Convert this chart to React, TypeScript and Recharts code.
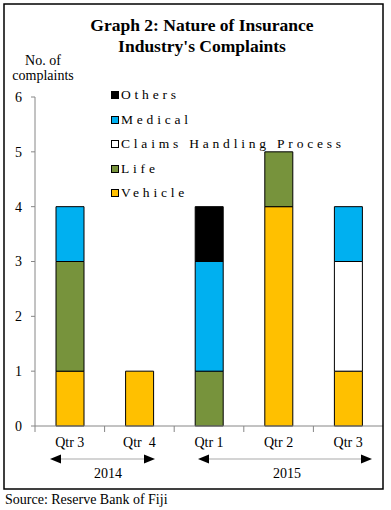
import React from "react";
import { BarChart, Bar, XAxis, YAxis, Legend } from "recharts";

const quarters = ["Qtr 3", "Qtr  4", "Qtr 1", "Qtr 2", "Qtr 3"];
const vehicle = [1, 1, 0, 4, 1];
const life = [2, 0, 1, 1, 0];
const claims = [0, 0, 0, 0, 2];
const medical = [1, 0, 2, 0, 1];
const others = [0, 0, 1, 0, 0];
const yTicks = [0, 1, 2, 3, 4, 5, 6];

const series = [
  { key: "vehicle", name: "Vehicle", color: "#FFC000", values: vehicle },
  { key: "life", name: "Life", color: "#77933C", values: life },
  { key: "claims", name: "Claims Handling Process", color: "#FFFFFF", values: claims },
  { key: "medical", name: "Medical", color: "#00B0F0", values: medical },
  { key: "others", name: "Others", color: "#000000", values: others },
];

const data = quarters.map((q, i) => {
  const row: any = { name: q };
  series.forEach((s) => (row[s.key] = s.values[i]));
  return row;
});

const FONT = '"Liberation Serif", "Times New Roman", serif';
const W = 391;
const H = 510;
const margin = { top: 97, right: 8, bottom: 54, left: 5 };
const Y_W = 30;
const BAND = (W - margin.left - margin.right - Y_W) / quarters.length;
const AXIS = "#868686";

const XTick = ({ x, y, payload }: any) => (
  <g>
    <line x1={x - BAND / 2} x2={x - BAND / 2} y1={y} y2={y + 6} stroke={AXIS} />
    <text
      x={x}
      y={y + 21}
      textAnchor="middle"
      fontSize={14}
      fontFamily={FONT}
      fill="#000"
      style={{ whiteSpace: "pre" }}
    >
      {payload.value}
    </text>
  </g>
);

const LegendBox = () => (
  <div style={{ fontFamily: FONT, fontSize: 13.5, color: "#000" }}>
    {[...series].reverse().map((s) => (
      <div
        key={s.key}
        style={{ height: 24.5, display: "flex", alignItems: "center", whiteSpace: "nowrap" }}
      >
        <span
          style={{
            display: "inline-block",
            width: 6,
            height: 6,
            background: s.color,
            border: "1px solid #000",
            marginRight: 2,
          }}
        />
        <span style={{ letterSpacing: 3.8 }}>{s.name}</span>
      </div>
    ))}
  </div>
);

const Arrow = ({ x1, x2, y }: { x1: number; x2: number; y: number }) => (
  <g>
    <line x1={x1 + 8} x2={x2 - 8} y1={y} y2={y} stroke="#d4d4d4" strokeWidth={2} />
    <polygon points={`${x1},${y} ${x1 + 11},${y - 4.5} ${x1 + 11},${y + 4.5}`} fill="#000" />
    <polygon points={`${x2},${y} ${x2 - 11},${y - 4.5} ${x2 - 11},${y + 4.5}`} fill="#000" />
  </g>
);

export default function App() {
  return (
    <div
      style={{
        position: "absolute",
        left: 0,
        top: 0,
        width: W,
        height: H,
        background: "#fff",
        fontFamily: FONT,
      }}
    >
      <BarChart width={W} height={H} data={data} margin={margin}>
        <XAxis
          dataKey="name"
          stroke={AXIS}
          tickLine={false}
          tickSize={0}
          tickMargin={0}
          interval={0}
          tick={<XTick />}
          height={30}
        />
        <YAxis
          domain={[0, 6]}
          ticks={yTicks}
          width={Y_W}
          stroke={AXIS}
          tickSize={4}
          tickMargin={9}
          tick={{ fill: "#000", fontSize: 14, fontFamily: FONT }}
        />
        <Legend
          layout="vertical"
          align="center"
          verticalAlign="middle"
          content={<LegendBox />}
          wrapperStyle={{ left: 111, top: 83, width: 270 }}
        />
        {series.map((s) => (
          <Bar
            key={s.key}
            dataKey={s.key}
            name={s.name}
            stackId="a"
            fill={s.color}
            stroke="#000"
            strokeWidth={1}
            barSize={28}
            isAnimationActive={false}
          />
        ))}
      </BarChart>

      <svg
        width={W}
        height={H}
        style={{ position: "absolute", left: 0, top: 0, pointerEvents: "none" }}
      >
        <rect x={4} y={4} width={379} height={485} fill="none" stroke="#000" strokeWidth={1.5} />
        <text x={202} y={31} textAnchor="middle" fontSize={17.5} fontWeight="bold" fontFamily={FONT}>
          Graph 2: Nature of Insurance
        </text>
        <text x={202} y={52} textAnchor="middle" fontSize={17.5} fontWeight="bold" fontFamily={FONT}>
          Industry's Complaints
        </text>
        <text x={43} y={65} textAnchor="middle" fontSize={14} fontFamily={FONT}>
          No. of
        </text>
        <text x={43} y={80} textAnchor="middle" fontSize={14} fontFamily={FONT}>
          complaints
        </text>
        <Arrow x1={50} x2={155} y={459} />
        <Arrow x1={198} x2={372} y={459} />
        <text x={108} y={478} textAnchor="middle" fontSize={14} fontFamily={FONT}>
          2014
        </text>
        <text x={287} y={478} textAnchor="middle" fontSize={14} fontFamily={FONT}>
          2015
        </text>
        <text x={5} y={504} fontSize={14} fontFamily={FONT}>
          Source: Reserve Bank of Fiji
        </text>
      </svg>
    </div>
  );
}
